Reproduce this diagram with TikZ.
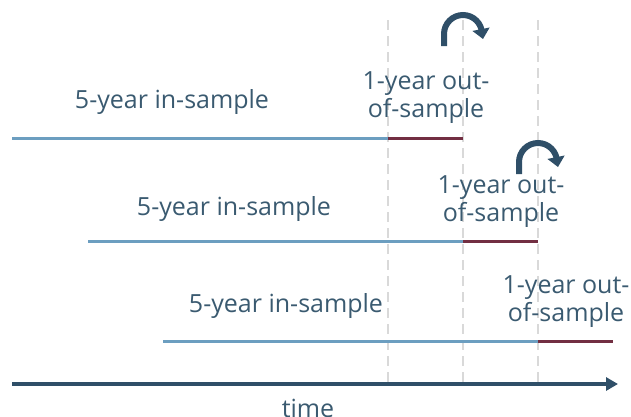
\documentclass[tikz,border=0pt]{standalone}
\usepackage{fontspec}
\setmainfont{Open Sans}
\usetikzlibrary{arrows.meta, positioning}
\definecolor{insample}{RGB}{108,158,192}
\definecolor{outsample}{RGB}{114,47,66}
\definecolor{slatenavy}{RGB}{47,79,104}
\definecolor{labeltext}{RGB}{58,90,112}
\definecolor{gridgray}{RGB}{217,217,217}

\begin{document}
\begin{tikzpicture}[x=1pt, y=-1pt]
  \useasboundingbox (0,0) rectangle (631,416);
  \tikzset{
    lbl/.style={text=labeltext, font=\fontsize{25}{28}\selectfont, align=center, inner sep=0pt},
    inline/.style={insample, line width=3pt},
    outline/.style={outsample, line width=3pt},
    rollarrow/.style={slatenavy, line width=6pt, -{Triangle[width=17pt, length=10pt]}}
  }

  % window boundaries
  \foreach \x in {388, 463, 538}
    \draw[gridgray, line width=2.5pt, dash pattern=on 10pt off 6pt] (\x,20) -- (\x,388);

  % time axis
  \coordinate (t0) at (12,384);
  \coordinate (t1) at (618,384);
  \draw[slatenavy, line width=4pt, -{Triangle[width=13pt, length=12pt]}] (t0) -- (t1);
  \node[lbl, anchor=base] (time) at (308,417) {time};

  % window 1
  \coordinate (a0) at (12,138);
  \coordinate (a1) at (388,138);
  \coordinate (a2) at (463,138);
  \draw[inline] (a0) -- (a1);
  \draw[outline] (a1) -- (a2);
  \node[lbl] (in1) at (172,102) {5-year in-sample};
  \node[lbl] (out1) at (426,98) {1-year out-\\of-sample};

  % window 2
  \coordinate (b0) at (88,241);
  \coordinate (b1) at (463,241);
  \coordinate (b2) at (538,241);
  \draw[inline] (b0) -- (b1);
  \draw[outline] (b1) -- (b2);
  \node[lbl] (in2) at (234,209) {5-year in-sample};
  \node[lbl] (out2) at (501,202) {1-year out-\\of-sample};

  % window 3
  \coordinate (c0) at (163,341);
  \coordinate (c1) at (538,341);
  \coordinate (c2) at (613,341);
  \draw[inline] (c0) -- (c1);
  \draw[outline] (c1) -- (c2);
  \node[lbl] (in3) at (286,306) {5-year in-sample};
  \node[lbl] (out3) at (566,302) {1-year out-\\of-sample};

  % roll forward
  \coordinate (r1) at (444,46);
  \coordinate (r2) at (519,174);
  \draw[rollarrow] (r1) -- ++(0,-12) arc (180:360:19) -- ++(1,5);
  \draw[rollarrow] (r2) -- ++(0,-12) arc (180:360:19) -- ++(1,5);
\end{tikzpicture}
\end{document}
